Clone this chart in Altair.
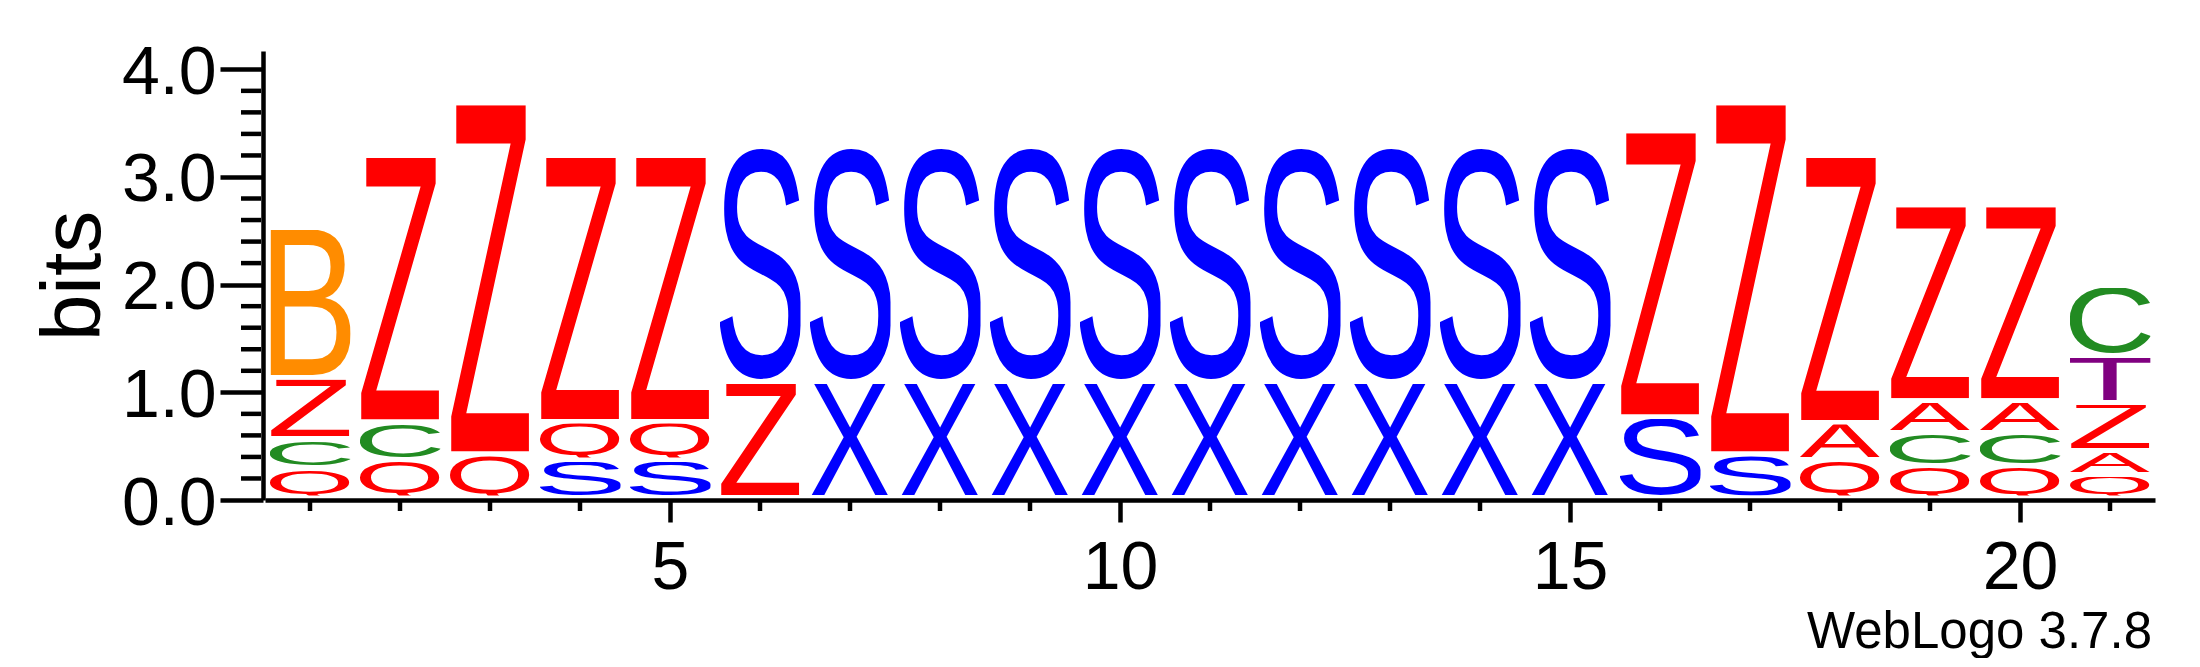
import urllib.parse
import pandas as pd
import altair as alt

# ---------------- data ----------------
positions = list(range(1, 22))
# letters of each stack, bottom -> top
stack_letters = [
    "QCZB", "QCZ", "QZ", "SQZ", "SQZ", "ZS",
    "XS", "XS", "XS", "XS", "XS", "XS", "XS", "XS", "XS",
    "SZ", "SZ", "QAZ", "QCAZ", "QCAZ", "QAZTC",
]
# heights in bits, bottom -> top
stack_heights = [
    [0.278, 0.270, 0.572, 1.392],
    [0.353, 0.352, 2.475],
    [0.408, 3.258],
    [0.353, 0.358, 2.469],
    [0.353, 0.358, 2.469],
    [1.077, 2.187],
    [1.077, 2.187],
    [1.077, 2.187],
    [1.077, 2.187],
    [1.077, 2.187],
    [1.077, 2.187],
    [1.077, 2.187],
    [1.077, 2.187],
    [1.077, 2.187],
    [1.077, 2.187],
    [0.752, 2.654],
    [0.408, 3.258],
    [0.353, 0.349, 2.478],
    [0.297, 0.309, 0.297, 1.816],
    [0.297, 0.309, 0.297, 1.816],
    [0.217, 0.222, 0.446, 0.436, 0.650],
]
y_major_ticks = [0, 1, 2, 3, 4]
y_minor_ticks = [0.2, 0.4, 0.6, 0.8, 1.2, 1.4, 1.6, 1.8, 2.2, 2.4, 2.6, 2.8,
                 3.2, 3.4, 3.6, 3.8]
x_major_ticks = [5, 10, 15, 20]
x_minor_ticks = [1, 2, 3, 4, 6, 7, 8, 9, 11, 12, 13, 14, 16, 17, 18, 19, 21]
y_max_bits = 4.17

# ---------------- styles ----------------
FONT = "Liberation Sans"
LETTER_COLORS = {
    "Z": "#ff0000", "Q": "#ff0000", "A": "#ff0000",
    "S": "#0000ff", "X": "#0000ff",
    "C": "#228b22", "B": "#ff8c00", "T": "#800080",
}
# approximate ink boxes of the glyphs (font units, 2048/em): xmin, xmax, ymin, ymax
GLYPH_BOX = {
    "Z": (40, 1210, 0, 1409),
    "B": (150, 1256, 0, 1409),
    "C": (100, 1400, -24, 1433),
    "Q": (88, 1524, -110, 1433),
    "S": (92, 1259, -24, 1433),
    "X": (9, 1360, 0, 1409),
    "A": (-3, 1369, 0, 1409),
    "T": (50, 1198, 0, 1409),
}
HALF_WIDTH = 0.45   # letter half width in positions
GAP = 0.042         # gap below each letter in bits


def glyph_url(letter):
    x0, x1, y0, y1 = GLYPH_BOX[letter]
    w, h = x1 - x0, y1 - y0
    svg = (
        f"<svg xmlns='http://www.w3.org/2000/svg' width='{w}' height='{h}' "
        f"viewBox='{x0} {-y1} {w} {h}' preserveAspectRatio='none'>"
        f"<text x='0' y='0' font-family=\"'Liberation Sans', Arial, sans-serif\" "
        f"font-size='2048' fill='{LETTER_COLORS[letter]}'>{letter}</text></svg>"
    )
    return "data:image/svg+xml;charset=utf-8," + urllib.parse.quote(svg)


rows = []
for pos, letters, heights in zip(positions, stack_letters, stack_heights):
    bottom = 0.0
    for letter, h in zip(letters, heights):
        top = bottom + h
        rows.append({
            "position": pos, "letter": letter, "bits": h,
            "x0": pos - HALF_WIDTH, "x1": pos + HALF_WIDTH,
            "y0": bottom + GAP, "y1": top,
            "url": glyph_url(letter),
        })
        bottom = top
df = pd.DataFrame(rows)

X_SCALE = alt.Scale(domain=[0.5, 21.5], nice=False, zero=False)
Y_SCALE = alt.Scale(domain=[0, y_max_bits], nice=False, zero=False)

x_axis = alt.Axis(
    values=x_major_ticks, format="d", title=None, grid=False,
    tickSize=22, tickWidth=4.5, tickColor="black",
    domainWidth=4.5, domainColor="black",
    labelFont=FONT, labelFontSize=68, labelColor="black", labelPadding=12,
    labelFlush=False, labelOverlap=False, zindex=1,
)
y_axis = alt.Axis(
    values=y_major_ticks, format=".1f", title="bits", grid=False, offset=2,
    tickSize=43, tickWidth=4.5, tickColor="black",
    domainWidth=4.5, domainColor="black",
    labelFont=FONT, labelFontSize=68, labelColor="black", labelPadding=4,
    labelOffset=4, labelFlush=False, labelOverlap=False,
    titleFont=FONT, titleFontSize=84, titleFontWeight="normal",
    titleColor="black", titlePadding=4, zindex=1,
)

logo = alt.Chart(df).mark_image(aspect=False).encode(
    x=alt.X("x0:Q", scale=X_SCALE, axis=x_axis),
    x2="x1:Q",
    y=alt.Y("y0:Q", scale=Y_SCALE, axis=y_axis),
    y2="y1:Q",
    url="url:N",
)

y_minor = alt.Chart(pd.DataFrame({"v": y_minor_ticks})).mark_rule(
    color="black", strokeWidth=4.5
).encode(
    y=alt.Y("v:Q", scale=Y_SCALE, axis=y_axis),
    x=alt.value(-24), x2=alt.value(-4),
)

x_minor = alt.Chart(pd.DataFrame({"p": x_minor_ticks})).mark_rule(
    color="black", strokeWidth=4.5
).encode(
    x=alt.X("p:Q", scale=X_SCALE, axis=x_axis),
    y=alt.value(449), y2=alt.value(460),
)

chart = alt.layer(logo, y_minor, x_minor).properties(
    width=1890, height=449,
    autosize=alt.AutoSizeParams(type="none"),
    padding={"left": 257, "top": 43, "right": 30, "bottom": 158},
    title=alt.TitleParams(
        text="WebLogo 3.7.8", orient="bottom", anchor="end", frame="group",
        font=FONT, fontSize=51, fontWeight="normal", color="black",
        offset=6, dx=-3,
    ),
).configure(background="white").configure_view(stroke=None)

chart.save("out.html", embed_options={"renderer": "svg", "actions": False})
